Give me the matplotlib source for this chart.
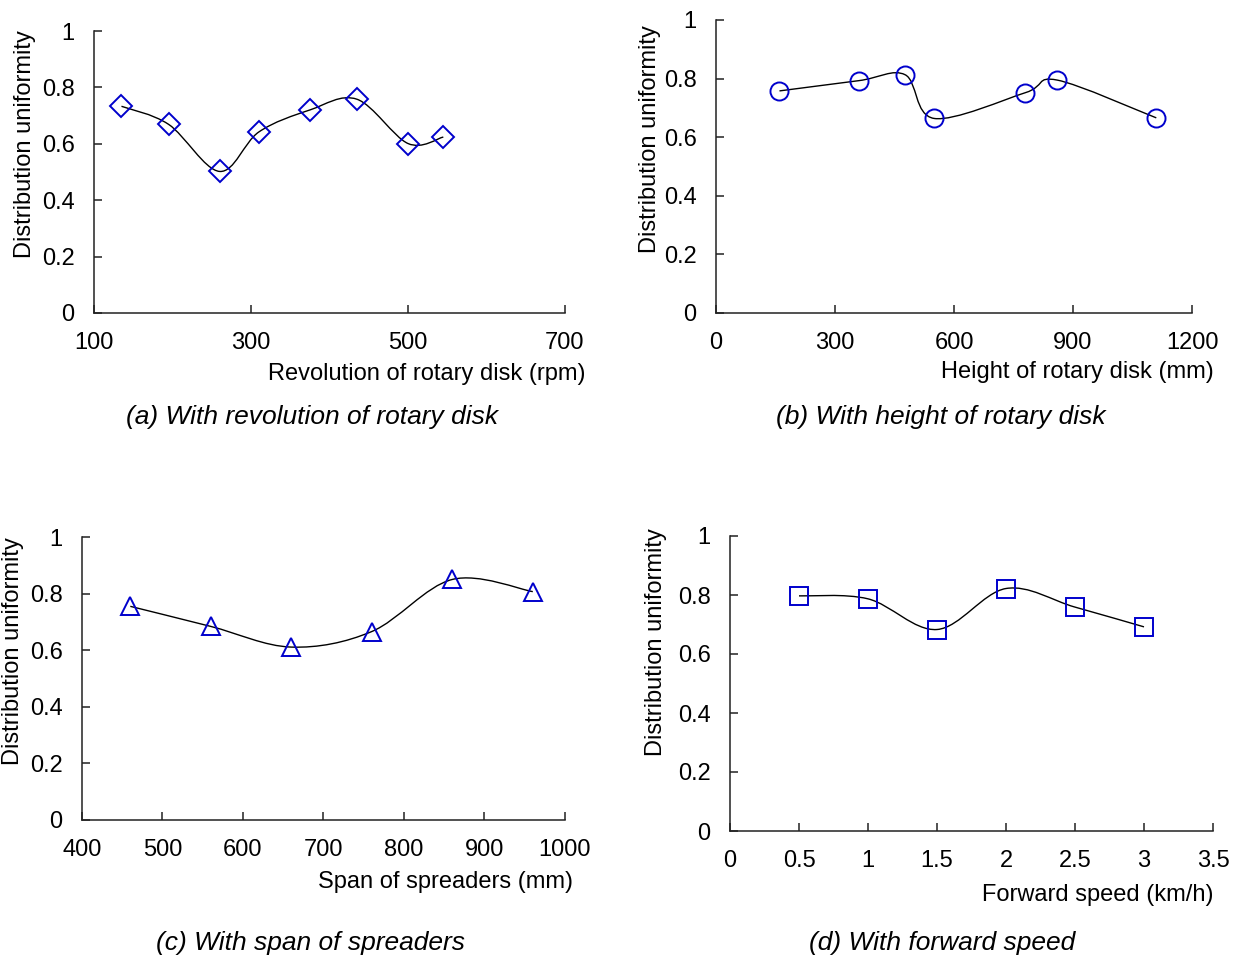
import matplotlib
matplotlib.use("Agg")
import matplotlib.pyplot as plt
from matplotlib.path import Path
from matplotlib.patches import PathPatch

plt.rcParams['font.family'] = ['Liberation Sans', 'DejaVu Sans']

# (a) revolution of rotary disk
rev_x = [135, 195, 260, 310, 375, 435, 500, 545]
rev_y = [0.733, 0.669, 0.502, 0.642, 0.720, 0.758, 0.601, 0.624]

# (b) height of rotary disk
height_x = [160, 360, 477, 550, 780, 860, 1110]
height_y = [0.758, 0.793, 0.813, 0.664, 0.752, 0.795, 0.666]

# (c) span of spreaders
span_x = [460, 560, 660, 760, 860, 960]
span_y = [0.755, 0.684, 0.611, 0.666, 0.850, 0.807]

# (d) forward speed
speed_x = [0.5, 1.0, 1.5, 2.0, 2.5, 3.0]
speed_y = [0.797, 0.787, 0.683, 0.822, 0.759, 0.692]

W, H = 1239, 959
fig = plt.figure(figsize=(W / 100, H / 100), dpi=100)

BLUE = '#0000CC'
FS_TICK = 17
FS_LAB = 17
FS_CAP = 19


def px(x, y):
    return x / W, 1 - y / H


def smooth_line(ax, xs, ys):
    # excel style smoothed line: cubic bezier through the points
    pts = list(zip(xs, ys))
    n = len(pts)
    verts = [pts[0]]
    codes = [Path.MOVETO]
    for i in range(n - 1):
        p0 = pts[i - 1] if i > 0 else pts[i]
        p1 = pts[i]
        p2 = pts[i + 1]
        p3 = pts[i + 2] if i + 2 < n else pts[i + 1]
        c1 = (p1[0] + (p2[0] - p0[0]) / 6, p1[1] + (p2[1] - p0[1]) / 6)
        c2 = (p2[0] - (p3[0] - p1[0]) / 6, p2[1] - (p3[1] - p1[1]) / 6)
        verts += [c1, c2, p2]
        codes += [Path.CURVE4] * 3
    ax.add_patch(PathPatch(Path(verts, codes), fill=False, color='black', lw=1.0))


def panel(box, xs, ys, marker, ms, xlim, xticks, xticklabels,
          ylab_pos, xlab, xlab_pos, cap, cap_pos):
    l, r, t, b = box
    ax = fig.add_axes([l / W, 1 - b / H, (r - l) / W, (b - t) / H])
    smooth_line(ax, xs, ys)
    ax.plot(xs, ys, linestyle='none', marker=marker, ms=ms, mfc='none',
            mec=BLUE, mew=1.4, zorder=3)
    ax.set_xlim(*xlim)
    ax.set_ylim(0, 1)
    ax.set_xticks(xticks)
    ax.set_xticklabels(xticklabels)
    ax.set_yticks([0, 0.2, 0.4, 0.6, 0.8, 1])
    ax.set_yticklabels(['0', '0.2', '0.4', '0.6', '0.8', '1'])
    for s in ['top', 'right']:
        ax.spines[s].set_visible(False)
    for s in ['left', 'bottom']:
        ax.spines[s].set_linewidth(1.1)
        ax.spines[s].set_color('#222222')
    ax.tick_params(direction='in', length=6, width=1.1, color='#222222',
                   labelsize=FS_TICK, pad=14)
    for lab in ax.get_xticklabels() + ax.get_yticklabels():
        lab.set_clip_on(False)
    x, y = px(*ylab_pos)
    fig.text(x, y, 'Distribution uniformity', rotation=90, ha='center',
             va='center', fontsize=FS_LAB)
    x, y = px(*xlab_pos)
    fig.text(x, y, xlab, ha='right', va='center', fontsize=FS_LAB)
    x, y = px(*cap_pos)
    fig.text(x, y, cap, ha='center', va='center', fontsize=FS_CAP,
             style='italic')
    return ax


panel((94, 565, 31, 313), rev_x, rev_y, 'D', 11, (100, 700),
      [100, 300, 500, 700], ['100', '300', '500', '700'],
      (25, 144), 'Revolution of rotary disk (rpm)', (585, 374),
      '(a) With revolution of rotary disk', (312, 417))

panel((716, 1192, 20, 313), height_x, height_y, 'o', 13, (0, 1200),
      [0, 300, 600, 900, 1200], ['0', '300', '600', '900', '1200'],
      (650, 139), 'Height of rotary disk (mm)', (1214, 372),
      '(b) With height of rotary disk', (941, 417))

panel((82, 565, 537, 820), span_x, span_y, '^', 13, (400, 1000),
      [400, 500, 600, 700, 800, 900, 1000],
      ['400', '500', '600', '700', '800', '900', '1000'],
      (13, 651), 'Span of spreaders (mm)', (573, 882),
      '(c) With span of spreaders', (310, 943))

panel((730, 1213, 536, 831), speed_x, speed_y, 's', 13, (0, 3.5),
      [0, 0.5, 1, 1.5, 2, 2.5, 3, 3.5],
      ['0', '0.5', '1', '1.5', '2', '2.5', '3', '3.5'],
      (656, 642), 'Forward speed (km/h)', (1213, 895),
      '(d) With forward speed', (942, 943))

fig.savefig('out.png', dpi=100)
